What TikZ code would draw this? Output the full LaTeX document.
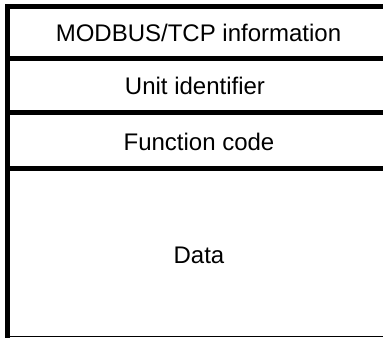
\documentclass[tikz,border=0pt]{standalone}
\usepackage{fontspec}
\setmainfont{Liberation Sans}
\begin{document}
\begin{tikzpicture}[x=1pt,y=-1pt,
  rule/.style={line width=5pt,line cap=butt},
  thinrule/.style={line width=1.5pt,line cap=butt},
  field/.style={font=\fontsize{24}{28}\selectfont,anchor=base,inner sep=0pt}]
  \useasboundingbox (0,0) rectangle (383,338);
  % frame: heavy left edge and top, heavy dividers, light bottom
  \draw[rule] (5,6.5) -- (383,6.5);
  \draw[rule] (7.5,4) -- (7.5,338);
  \draw[rule] (10,58.5) -- (383,58.5);
  \draw[rule] (10,112.5) -- (383,112.5);
  \draw[rule] (10,168.5) -- (383,168.5);
  \draw[thinrule] (10,336.5) -- (383,336.5);
  % field labels
  \node[field] (mbap) at (198.5,41) {MODBUS/TCP information};
  \node[field] (unit) at (195,94) {Unit identifier};
  \node[field] (func) at (199,150) {Function code};
  \node[field] (data) at (199,263.5) {Data};
\end{tikzpicture}
\end{document}
